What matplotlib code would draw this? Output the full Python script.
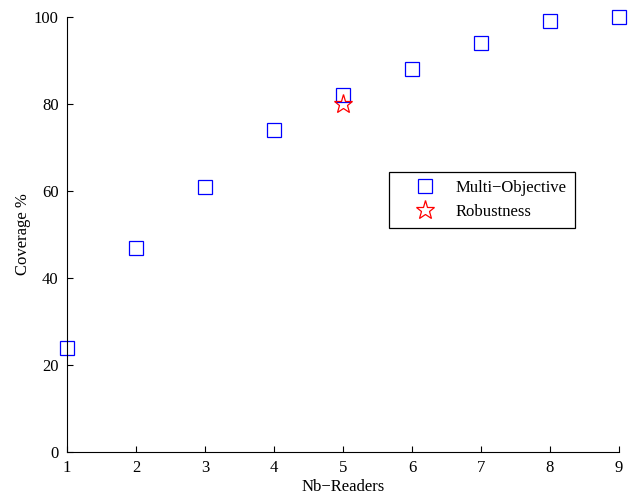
import matplotlib
matplotlib.use("Agg")
import matplotlib.pyplot as plt

readers = [1, 2, 3, 4, 5, 6, 7, 8, 9]
coverage = [24, 47, 61, 74, 82, 88, 94, 99, 100]
robust_x = [5]
robust_y = [80]

plt.rcParams['font.family'] = ['Liberation Serif', 'DejaVu Serif']
plt.rcParams['font.size'] = 12

fig = plt.figure(figsize=(6.34, 4.98), dpi=100)
ax = fig.add_axes([0.1057, 0.0924, 0.8706, 0.8735])
ax.plot(readers, coverage, linestyle='none', marker='s', markersize=10,
        markerfacecolor='none', markeredgecolor='#0000ff', markeredgewidth=0.9,
        label='Multi\u2212Objective', clip_on=False)
ax.plot(robust_x, robust_y, linestyle='none', marker='*', markersize=14,
        markerfacecolor='none', markeredgecolor='#ff0000', markeredgewidth=0.9,
        label='Robustness', clip_on=False)
ax.set_xlim(1, 9)
ax.set_ylim(0, 100)
ax.set_xticks(range(1, 10))
ax.set_yticks(range(0, 101, 20))
ax.spines['top'].set_visible(False)
ax.spines['right'].set_visible(False)
ax.tick_params(direction='in', length=4, width=0.8)
ax.tick_params(axis='x', pad=6)
ax.tick_params(axis='y', pad=6)
ax.set_xlabel('Nb\u2212Readers', labelpad=2)
ax.set_ylabel('Coverage %', labelpad=2)
for s in ax.spines.values():
    s.set_linewidth(0.8)
leg = ax.legend(loc='upper left', bbox_to_anchor=(0.583, 0.644), fancybox=False,
                edgecolor='black', framealpha=1, borderpad=0.5, handlelength=3.3,
                handletextpad=0.2, borderaxespad=0, labelspacing=0.45)
leg.get_frame().set_linewidth(0.9)
fig.savefig('out.png', dpi=100)
